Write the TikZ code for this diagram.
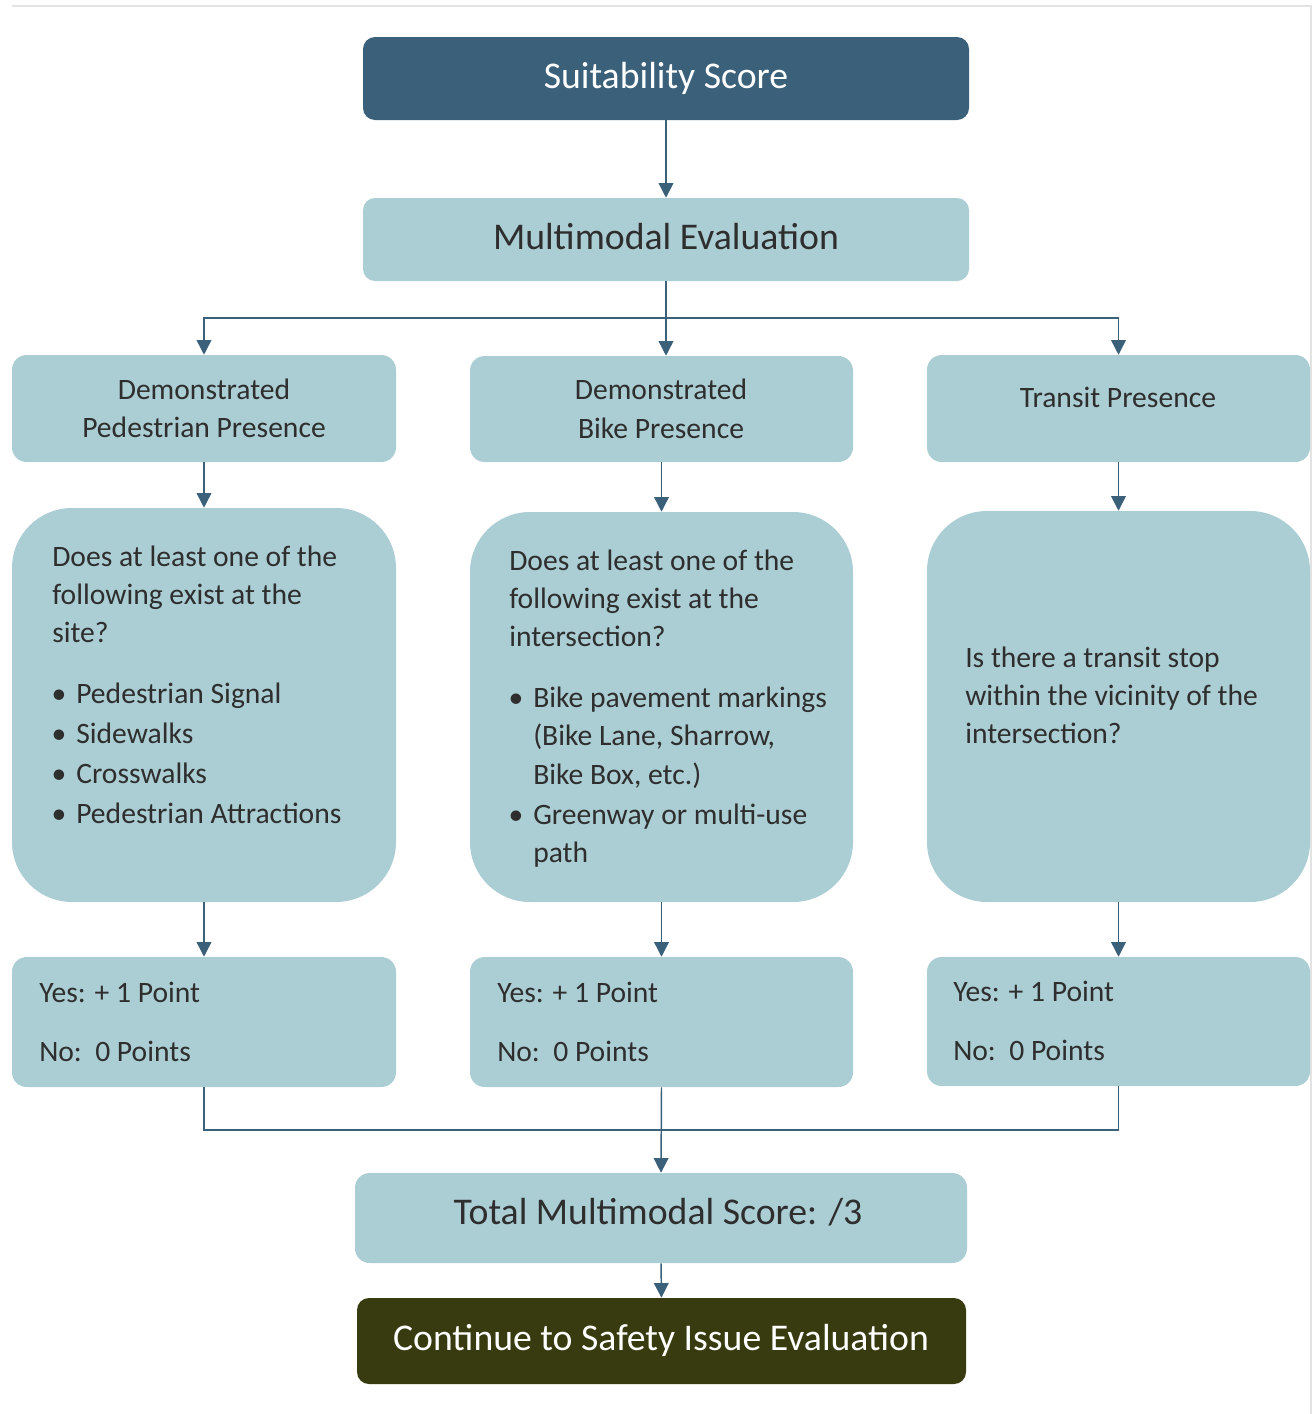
\documentclass[tikz,border=0pt]{standalone}
\usepackage{fontspec}
\setmainfont{Carlito}
\usetikzlibrary{arrows.meta,fit}
\definecolor{slate}{HTML}{3B6079}
\definecolor{pale}{HTML}{ABCDD4}
\definecolor{olive}{HTML}{383A0F}
\definecolor{ink}{HTML}{2E2E2E}
\definecolor{framegray}{HTML}{E3E3E3}
\begin{document}
\begin{tikzpicture}[x=0.75pt,y=-0.75pt,
  box/.style={fill=pale, inner sep=0pt, rounded corners=11pt},
  roundbox/.style={fill=pale, inner sep=0pt, rounded corners=45pt},
  darkbox/.style={inner sep=0pt, rounded corners=9pt},
  big/.style={inner sep=0pt, text=ink, font=\fontsize{28.3}{33}\selectfont},
  med/.style={inner sep=0pt, text=ink, font=\fontsize{22.2}{28}\selectfont},
  link/.style={draw=slate, line width=1.1pt},
  arr/.style={link, -{Triangle[length=11pt,width=11pt]}}]
\useasboundingbox (0,0) rectangle (1312,1414);

% page edge
\draw[framegray, line width=1.2pt] (12,6) -- (1311,6) -- (1311,1414);

% boxes
\node[darkbox, fill=slate, fit={(363,37) (969,120)}] (suit) {};
\node[box, rounded corners=9pt, fit={(363,198) (969,281)}] (multi) {};

\node[box, fit={(12,355) (396,462)}] (ped) {};
\node[box, fit={(470,356) (853,462)}] (bike) {};
\node[box, fit={(927,355) (1310,462)}] (transit) {};

\node[roundbox, fit={(12,508) (396,902)}] (pedq) {};
\node[roundbox, fit={(470,512) (853,902)}] (bikeq) {};
\node[roundbox, fit={(927,511) (1310,902)}] (transitq) {};

\node[box, fit={(12,957) (396,1087)}] (pedpts) {};
\node[box, fit={(470,957) (853,1087)}] (bikepts) {};
\node[box, fit={(927,957) (1310,1086)}] (transitpts) {};

\node[box, fit={(355,1173) (967,1263)}] (total) {};
\node[darkbox, fill=olive, fit={(357,1298) (966,1384)}] (cont) {};

% titles
\node[big, text=white, anchor=base] (suitT) at (666,88) {Suitability Score};
\node[big, anchor=base] (multiT) at (666,249) {Multimodal Evaluation};
\node[big, anchor=base] (totalT) at (658,1224) {Total Multimodal Score: /3};
\node[big, text=white, anchor=base] (contT) at (661,1350) {Continue to Safety Issue Evaluation};

\node[med, anchor=base] (pedT1) at (204,399) {Demonstrated};
\node[med, anchor=base] (pedT2) at (204,437) {Pedestrian Presence};
\node[med, anchor=base] (bikeT1) at (661,399) {Demonstrated};
\node[med, anchor=base] (bikeT2) at (661,438) {Bike Presence};
\node[med, anchor=base] (transitT) at (1118,407) {Transit Presence};

% pedestrian question
\node[med, anchor=base west] (pq1) at (52,566) {Does at least one of the};
\node[med, anchor=base west] (pq2) at (52,604) {following exist at the};
\node[med, anchor=base west] (pq3) at (52,642) {site?};
\node[med, anchor=base] (pb1) at (59,703) {•};
\node[med, anchor=base west] (pi1) at (76,703) {Pedestrian Signal};
\node[med, anchor=base] (pb2) at (59,743) {•};
\node[med, anchor=base west] (pi2) at (76,743) {Sidewalks};
\node[med, anchor=base] (pb3) at (59,783) {•};
\node[med, anchor=base west] (pi3) at (76,783) {Crosswalks};
\node[med, anchor=base] (pb4) at (59,823) {•};
\node[med, anchor=base west] (pi4) at (76,823) {Pedestrian Attractions};

% bike question
\node[med, anchor=base west] (bq1) at (509,570) {Does at least one of the};
\node[med, anchor=base west] (bq2) at (509,608) {following exist at the};
\node[med, anchor=base west] (bq3) at (509,646) {intersection?};
\node[med, anchor=base] (bb1) at (516,707) {•};
\node[med, anchor=base west] (bi1) at (533,707) {Bike pavement markings};
\node[med, anchor=base west] (bi2) at (533,745) {(Bike Lane, Sharrow,};
\node[med, anchor=base west] (bi3) at (533,784) {Bike Box, etc.)};
\node[med, anchor=base] (bb2) at (516,824) {•};
\node[med, anchor=base west] (bi4) at (533,824) {Greenway or multi-use};
\node[med, anchor=base west] (bi5) at (533,862) {path};

% transit question
\node[med, anchor=base west] (tq1) at (965,667) {Is there a transit stop};
\node[med, anchor=base west] (tq2) at (965,705) {within the vicinity of the};
\node[med, anchor=base west] (tq3) at (965,743) {intersection?};

% scoring
\node[med, anchor=base west] (py) at (39,1002) {Yes: + 1 Point};
\node[med, anchor=base west] (pn) at (39,1061) {No:\ \ 0 Points};
\node[med, anchor=base west] (by) at (497,1002) {Yes: + 1 Point};
\node[med, anchor=base west] (bn) at (497,1061) {No:\ \ 0 Points};
\node[med, anchor=base west] (ty) at (953,1001) {Yes: + 1 Point};
\node[med, anchor=base west] (tn) at (953,1060) {No:\ \ 0 Points};

% connectors
\coordinate (split) at (666,318);
\coordinate (join) at (661,1130);
\draw[arr] (suit.south) -- (multi.north);
\draw[link] (multi.south) -- (split);
\draw[arr] (split) -| (ped.north);
\draw[arr] (split) -- (split |- bike.north);
\draw[arr] (split) -| (transit.north);

\draw[arr] (ped.south) -- (pedq.north);
\draw[arr] (bike.south) -- (bikeq.north);
\draw[arr] (transit.south) -- (transitq.north);

\draw[arr] (pedq.south) -- (pedpts.north);
\draw[arr] (bikeq.south) -- (bikepts.north);
\draw[arr] (transitq.south) -- (transitpts.north);

\draw[link] (pedpts.south) |- (join);
\draw[link] (transitpts.south) |- (join);
\draw[arr] (bikepts.south) -- (total.north);
\draw[arr] (total.south) -- (cont.north);
\end{tikzpicture}
\end{document}
